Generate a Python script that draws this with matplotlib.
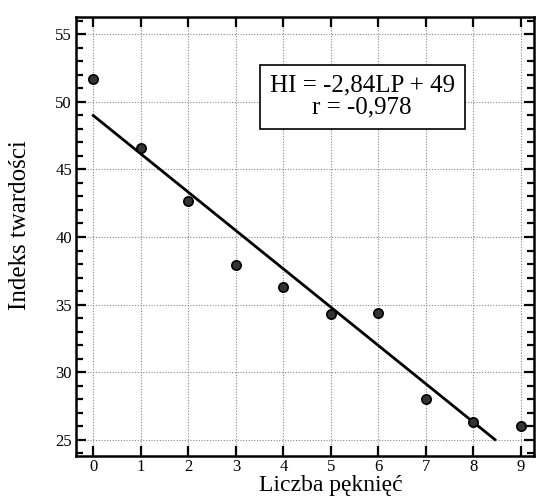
import numpy as np
import matplotlib.pyplot as plt
from matplotlib.ticker import MultipleLocator

# data
liczba_pekniec = [0, 1, 2, 3, 4, 5, 6, 7, 8, 9]
indeks_twardosci = [51.7, 46.6, 42.7, 37.9, 36.3, 34.3, 34.4, 28.0, 26.3, 26.0]

# regression HI = -2.84 LP + 49, drawn until it reaches 25
slope = -2.84
intercept = 49
fit_x = [0, (25 - intercept) / slope]

plt.rcParams['font.family'] = ['Liberation Serif', 'DejaVu Serif']

fig = plt.figure(figsize=(5.36, 4.97), dpi=100)
ax = fig.add_axes([0.142, 0.083, 0.854, 0.883])

fit_y = [slope * x + intercept for x in fit_x]
ax.plot(fit_x, fit_y, color='black', lw=2.0, zorder=3)
ax.scatter(liczba_pekniec, indeks_twardosci, s=45, color='#333333',
           edgecolors='black', linewidths=1.2, zorder=4)

ax.set_xlim(-0.36, 9.27)
ax.set_ylim(23.8, 56.3)
ax.xaxis.set_major_locator(MultipleLocator(1))
ax.yaxis.set_major_locator(MultipleLocator(5))
ax.yaxis.set_minor_locator(MultipleLocator(1))

ax.grid(True, which='major', color='#888888', ls=(0, (1, 1.5)), lw=0.8)
ax.tick_params(which='both', direction='in', top=True, right=True,
               labelsize=12, width=1.6, pad=3)
ax.tick_params(axis='x', pad=2)
ax.tick_params(which='major', length=7)
ax.tick_params(which='minor', length=5)
for sp in ax.spines.values():
    sp.set_linewidth(1.8)

ax.set_xlabel('Liczba pęknięć', fontsize=17)
ax.xaxis.set_label_coords(0.557, -0.044)
ax.set_ylabel('Indeks twardości', fontsize=18)
ax.yaxis.set_label_coords(-0.098, 0.526)

ax.text(0.625, 0.818, 'HI = -2,84LP + 49\nr = -0,978', transform=ax.transAxes,
        ha='center', va='center', fontsize=18, linespacing=1.0,
        bbox=dict(boxstyle='square,pad=0.4', fc='white', ec='black', lw=1.2),
        zorder=5)

fig.savefig('out.png', dpi=100)
